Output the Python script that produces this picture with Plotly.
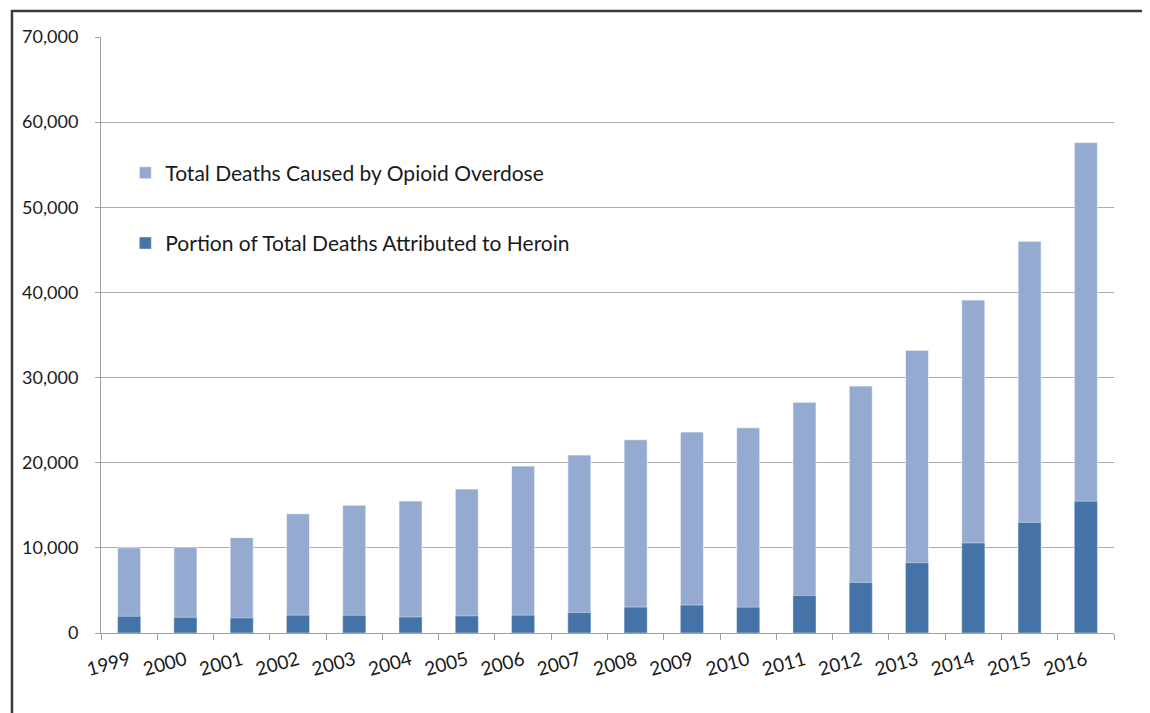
import plotly.graph_objects as go

years = ["1999", "2000", "2001", "2002", "2003", "2004", "2005", "2006", "2007",
         "2008", "2009", "2010", "2011", "2012", "2013", "2014", "2015", "2016"]
total_deaths = [10000, 10100, 11200, 14000, 15000, 15500, 16900, 19600, 20900,
                22700, 23600, 24100, 27100, 29000, 33200, 39100, 46000, 57600]
heroin_deaths = [1960, 1842, 1779, 2089, 2080, 1878, 2009, 2088, 2399,
                 3041, 3278, 3036, 4397, 5925, 8257, 10574, 12989, 15469]

LIGHT = "#94AAD0"
DARK = "#4573A7"
FONT = "Lato"

fig = go.Figure()
fig.add_trace(go.Bar(
    x=years, y=total_deaths, name="Total Deaths Caused by Opioid Overdose",
    marker=dict(color=LIGHT, line=dict(color="rgba(255,255,255,0.6)", width=1)),
    width=0.41, legendgroup="a"))
fig.add_trace(go.Bar(
    x=years, y=heroin_deaths, name="Portion of Total Deaths Attributed to Heroin",
    marker=dict(color=DARK, line=dict(color="rgba(255,255,255,0.4)", width=1)),
    width=0.41, legendgroup="b"))

fig.update_layout(
    width=1150, height=713,
    margin=dict(l=93, r=44, t=29, b=88),
    barmode="overlay",
    paper_bgcolor="white", plot_bgcolor="white",
    font=dict(family=FONT, size=19, color="#1a1a1a"),
    showlegend=True,
    legend=dict(x=0.024, y=0.806, xanchor="left", yanchor="top",
                bgcolor="rgba(0,0,0,0)", tracegroupgap=40,
                font=dict(family=FONT, size=21, color="#1a1a1a")),
)
fig.update_yaxes(range=[0, 70000], dtick=10000, tickformat=",",
                 showgrid=True, gridcolor="#ABABAB", gridwidth=1,
                 showline=True, linecolor="#A0A0A0", linewidth=1,
                 ticks="outside", ticklen=5, tickcolor="#A0A0A0",
                 ticklabelstandoff=13, zeroline=False,
                 tickfont=dict(family=FONT, size=18, color="#1a1a1a"))
fig.update_xaxes(type="category", tickson="boundaries", ticks="outside",
                 ticklen=6, tickcolor="#A0A0A0", showline=True,
                 linecolor="#A0A0A0", linewidth=1, tickangle=-15,
                 showgrid=False, ticklabelstandoff=8,
                 tickfont=dict(family=FONT, size=19, color="#1a1a1a"))

fig.add_shape(type="rect", xref="paper", yref="paper",
              x0=-0.0879, x1=1.2, y0=-0.3, y1=1.0436,
              line=dict(color="#3a3a3a", width=2.5), layer="above")

fig.write_html("out.html")
